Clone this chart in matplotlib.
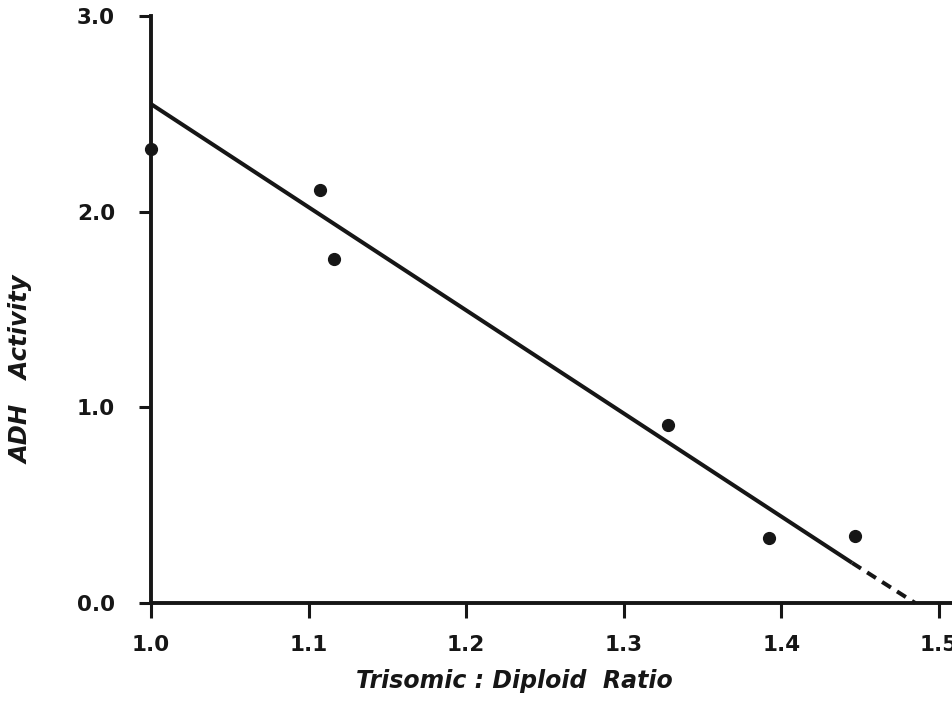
#!python3
# -*- coding: utf-8 -*-

import matplotlib
matplotlib.use("Agg")
import matplotlib.pyplot as plt

# data
ratio = [1.0, 1.107, 1.116, 1.328, 1.392, 1.447]
adh = [2.32, 2.11, 1.76, 0.91, 0.33, 0.34]

# fitted line (solid part) and its extrapolation (dashed)
fit_x = [1.0, 1.445]
fit_y = [2.55, 0.205]
ext_x = [1.445, 1.485]
ext_y = [0.205, 0.0]

xticks = [1.0, 1.1, 1.2, 1.3, 1.4, 1.5]
yticks = [0.0, 1.0, 2.0, 3.0]

ink = "#161616"

plt.rcParams.update({'font.family': 'DejaVu Sans',
                     'font.weight': 'bold',
                     'axes.edgecolor': ink,
                     'axes.linewidth': 2.8,
                     'xtick.color': ink,
                     'ytick.color': ink,
                     'xtick.major.size': 11,
                     'xtick.major.width': 2.2,
                     'ytick.major.size': 9,
                     'ytick.major.width': 2.2})

fig = plt.figure(figsize=(9.53, 7.03), dpi=100)
ax = fig.add_axes([151 / 953, 100 / 703, 1 - 151 / 953, 587 / 703])

ax.plot(fit_x, fit_y, color=ink, lw=2.9, solid_capstyle='butt')
ax.plot(ext_x, ext_y, color=ink, lw=2.9, linestyle=(0, (2.6, 1.8)), clip_on=False)
ax.plot(ratio, adh, 'o', color=ink, markersize=8.5, clip_on=False, zorder=5)

ax.set_xlim(1.0, 1.509)
ax.set_ylim(0.0, 3.0)
ax.spines['top'].set_visible(False)
ax.spines['right'].set_visible(False)

ax.set_xticks(xticks)
ax.set_xticklabels(["%.1f" % v for v in xticks])
ax.set_yticks(yticks)
ax.set_yticklabels(["%.1f" % v for v in yticks])
ax.tick_params(axis='x', labelsize=15.5, pad=12)
ax.tick_params(axis='y', labelsize=15.5, pad=17)
for lab in ax.get_xticklabels() + ax.get_yticklabels():
    lab.set_fontweight('bold')

fig.text(514 / 953, 1 - 681 / 703, "Trisomic : Diploid  Ratio", ha='center', va='center',
         fontsize=17, fontweight='bold', style='italic', color=ink)
fig.text(22 / 953, 1 - 370 / 703, "ADH   Activity", ha='center', va='center', rotation=90,
         fontsize=17.5, fontweight='bold', style='italic', color=ink)

fig.savefig("out.png", dpi=100)
